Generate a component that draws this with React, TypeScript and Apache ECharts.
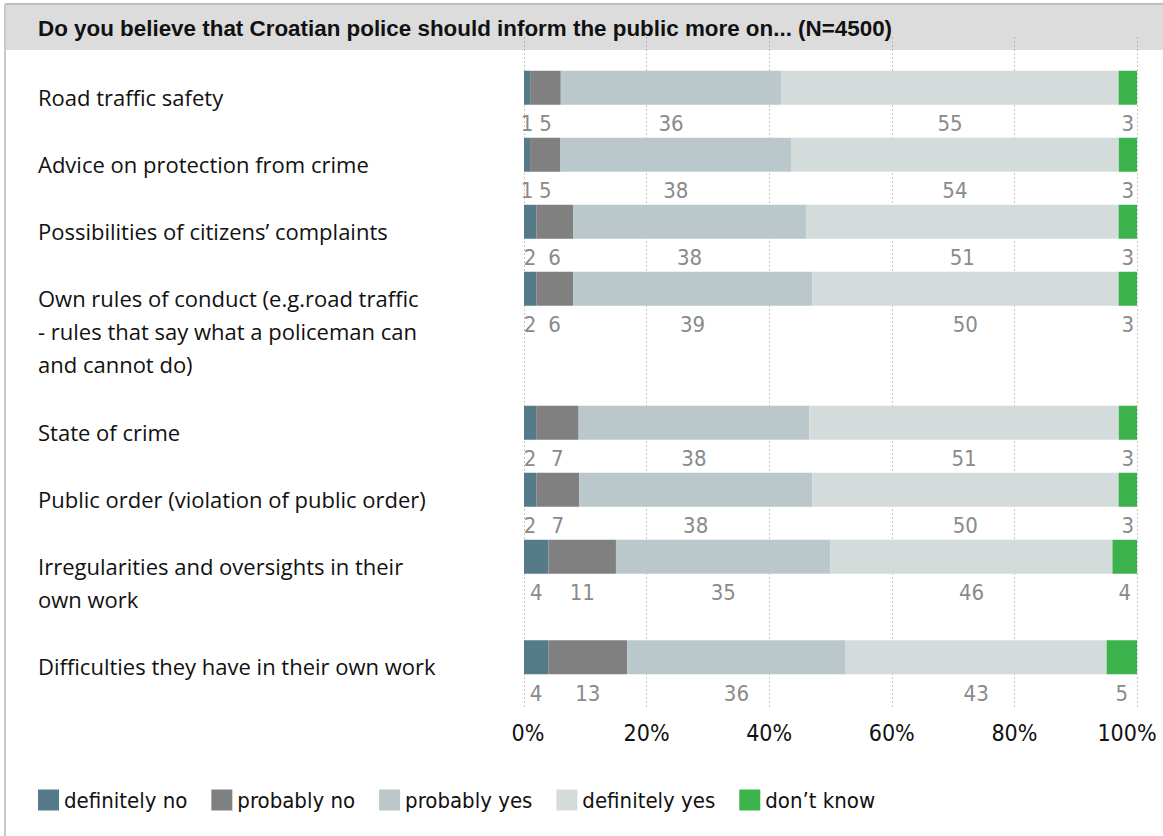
import React, { useEffect, useRef } from "react";
import * as echarts from "echarts";

const titleText = "Do you believe that Croatian police should inform the public more on... (N=4500)";
const categories = [
  "Road traffic safety",
  "Advice on protection from crime",
  "Possibilities of citizens’ complaints",
  "Own rules of conduct (e.g.road traffic\n- rules that say what a policeman can\nand cannot do)",
  "State of crime",
  "Public order (violation of public order)",
  "Irregularities and oversights in their\nown work",
  "Difficulties they have in their own work",
];
const seriesNames = ["definitely no", "probably no", "probably yes", "definitely yes", "don’t know"];
const definitelyNo = [1, 1, 2, 2, 2, 2, 4, 4];
const probablyNo = [5, 5, 6, 6, 7, 7, 11, 13];
const probablyYes = [36, 38, 38, 39, 38, 38, 35, 36];
const definitelyYes = [55, 54, 51, 50, 51, 50, 46, 43];
const dontKnow = [3, 3, 3, 3, 3, 3, 4, 5];
const xTickValues = [0, 20, 40, 60, 80, 100];

// layout: slot index of each row on a finer category grid (multi-line labels take more room)
const rowSlots = [1, 3, 5, 7, 11, 13, 15, 18];
const totalSlots = 20;

const colors = ["#557a8a", "#808080", "#bac8cc", "#d3dcdb", "#3bb24b"];
const condensed = "'DejaVu Sans Condensed', 'DejaVu Sans', sans-serif";
const sans = "'Open Sans', 'Liberation Sans', Arial, sans-serif";
const boldSans = "'Liberation Sans', Arial, sans-serif";

function toSlots(values: any[], empty: any): any[] {
  const out: any[] = new Array(totalSlots).fill(empty);
  rowSlots.forEach((s, i) => (out[s] = values[i]));
  return out;
}

export default function App() {
  const ref = useRef<HTMLDivElement>(null);
  useEffect(() => {
    if (!ref.current) return;
    const chart = echarts.init(ref.current, undefined, { renderer: "svg" });
    const slotNames = Array.from({ length: totalSlots }, (_, i) => "s" + i);
    const labelNames = toSlots(categories, "");
    const allSeries = [definitelyNo, probablyNo, probablyYes, definitelyYes, dontKnow];
    // each row is shown as shares of its own total (printed values are rounded)
    const rowTotals = categories.map((_, r) => allSeries.reduce((s, arr) => s + arr[r], 0));
    const unit = 33.5;
    const gridTop = 37.5;
    const tickTextStyle = { fontFamily: condensed, fontSize: 23, color: "#111" };
    chart.setOption({
      animation: false,
      title: {
        text: titleText,
        left: 33,
        top: 12,
        textStyle: { fontFamily: boldSans, fontSize: 22.4, fontWeight: "bold", color: "#111" },
      },
      graphic: [
        { type: "rect", z: -10, shape: { x: 5, y: 4, width: 1158, height: 46 }, style: { fill: "#dcdcdd" } },
        { type: "line", z: -9, shape: { x1: 5, y1: 4, x2: 1163, y2: 4 }, style: { stroke: "#bdbdbd", lineWidth: 2 } },
        { type: "line", z: -9, shape: { x1: 5, y1: 4, x2: 5, y2: 836 }, style: { stroke: "#c8c8c8", lineWidth: 2 } },
      ],
      legend: {
        left: 33,
        top: 784,
        itemWidth: 21,
        itemHeight: 21,
        itemGap: 24,
        icon: "rect",
        data: seriesNames,
        textStyle: { fontFamily: condensed, fontSize: 22, color: "#111" },
      },
      grid: [
        { left: 524, width: 613, top: gridTop, height: unit * totalSlots, outerBoundsMode: "none", containLabel: false },
        { left: 524, width: 613, top: gridTop - 7.5, height: unit * totalSlots, outerBoundsMode: "none", containLabel: false },
      ],
      xAxis: [
        {
          gridIndex: 0,
          type: "value",
          min: 0,
          max: 100,
          interval: 20,
          axisLine: { show: false },
          axisTick: { show: false },
          splitLine: { show: true, lineStyle: { type: [1, 3], color: "#8c8c8c", width: 1 } },
          axisLabel: {
            formatter: (v: number) => {
              if (!xTickValues.includes(v)) return "";
              if (v === 0) return "{first|" + v + "%}";
              if (v === 100) return "{last|" + v + "%}";
              return v + "%";
            },
            ...tickTextStyle,
            margin: 14,
            rich: {
              first: { ...tickTextStyle, padding: [0, 0, 0, 8] },
              last: { ...tickTextStyle, padding: [0, 20, 0, 0] },
            },
          },
        },
        { gridIndex: 1, type: "value", show: false, min: 0, max: 100 },
      ],
      yAxis: [
        {
          gridIndex: 0,
          type: "category",
          inverse: true,
          data: slotNames,
          axisLine: { show: false },
          axisTick: { show: false },
          axisLabel: { show: false },
        },
        {
          gridIndex: 1,
          type: "category",
          inverse: true,
          data: labelNames,
          axisLine: { show: false },
          axisTick: { show: false },
          axisLabel: {
            interval: 0,
            align: "left",
            verticalAlign: "top",
            margin: 486,
            lineHeight: 33,
            fontFamily: sans,
            fontSize: 22,
            color: "#111",
          },
        },
      ],
      series: allSeries.map((vals, i) => ({
        name: seriesNames[i],
        type: "bar",
        stack: "total",
        xAxisIndex: 0,
        yAxisIndex: 0,
        barWidth: 34,
        itemStyle: { color: colors[i] },
        label: {
          show: true,
          position: "bottom",
          distance: 8,
          fontFamily: condensed,
          fontSize: 22,
          color: "#8a8a8a",
          formatter: (p: any) => String(p.data.raw),
        },
        data: toSlots(
          vals.map((v, r) => ({ value: (v / rowTotals[r]) * 100, raw: v })),
          "-"
        ),
      })),
    });
    return () => chart.dispose();
  }, []);
  return (
    <div
      ref={ref}
      style={{ position: "absolute", left: 0, top: 0, width: 1163, height: 836, background: "#fff" }}
    />
  );
}
